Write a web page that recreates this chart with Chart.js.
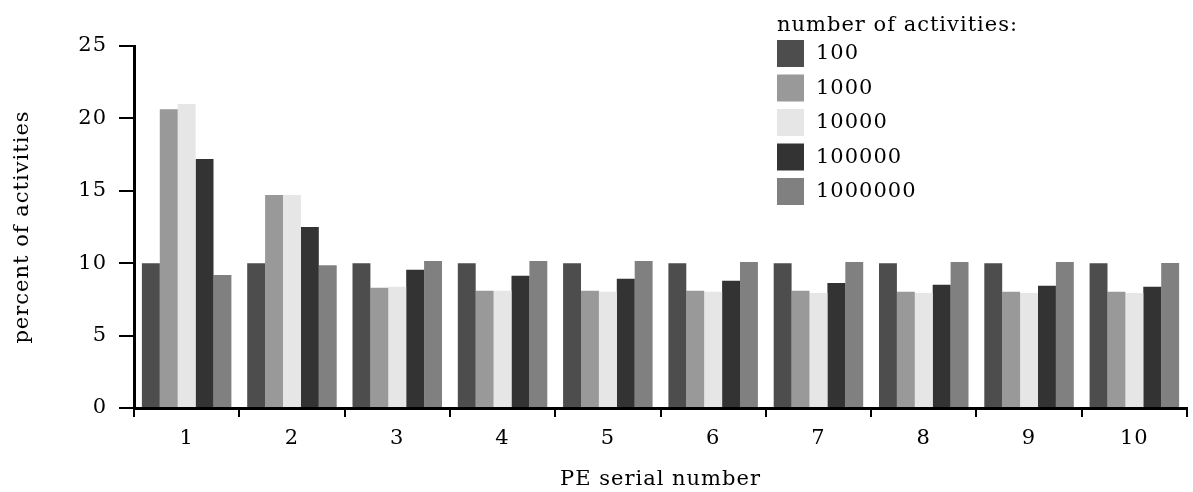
<!DOCTYPE html>
<html>
<head>
<meta charset="utf-8">
<script src="https://cdn.jsdelivr.net/npm/chart.js@4/dist/chart.umd.min.js"></script>
<style>
  html, body { margin: 0; padding: 0; background: #fff; }
  #wrap { width: 1193px; height: 492px; }
</style>
</head>
<body>
<div id="wrap"><canvas id="peChart" width="1193" height="492"></canvas></div>
<script>
// PE serial numbers on the x axis
var peNumbers = ['1', '2', '3', '4', '5', '6', '7', '8', '9', '10'];

// share of activities per PE (percent), one list per run size
var run100     = [10.0, 10.0, 10.0, 10.0, 10.0, 10.0, 10.0, 10.0, 10.0, 10.0];
var run1000    = [20.64, 14.71, 8.30, 8.09, 8.09, 8.09, 8.09, 8.02, 8.02, 8.02];
var run10000   = [20.99, 14.71, 8.37, 8.09, 8.02, 8.02, 7.95, 7.95, 7.95, 7.95];
var run100000  = [17.19, 12.50, 9.54, 9.13, 8.92, 8.78, 8.64, 8.51, 8.44, 8.37];
var run1000000 = [9.19, 9.86, 10.16, 10.16, 10.16, 10.09, 10.09, 10.09, 10.09, 10.02];

var runLabels = ['100', '1000', '10000', '100000', '1000000'];
var runColors = ['#4d4d4d', '#999999', '#e6e6e6', '#333333', '#808080'];
var yTicks = [0, 5, 10, 15, 20, 25];

var serif = "'DejaVu Serif', 'Liberation Serif', serif";
var fontSize = 21;

// slightly looser text, applied before measuring and before drawing
var spacing = {
    id: 'spacing',
    beforeUpdate: function(chart) { chart.ctx.letterSpacing = '1px'; },
    beforeDraw: function(chart) { chart.ctx.letterSpacing = '1px'; }
};

// legend drawn inside the plot, top right
var boxLegend = {
    id: 'boxLegend',
    afterDraw: function(chart) {
        var ctx = chart.ctx;
        var x = 777, y = 26;
        ctx.save();
        ctx.fillStyle = '#000';
        ctx.font = fontSize + 'px ' + serif;
        ctx.textBaseline = 'middle';
        ctx.textAlign = 'left';
        ctx.fillText('number of activities:', x, y);
        chart.data.datasets.forEach(function(ds, i) {
            var cy = 53 + i * 34.5;
            ctx.fillStyle = ds.backgroundColor;
            ctx.fillRect(x, cy - 13, 27, 27);
            ctx.fillStyle = '#000';
            ctx.fillText(ds.label, x + 39, cy + 1);
        });
        ctx.restore();
    }
};

var datasets = [run100, run1000, run10000, run100000, run1000000].map(function(vals, i) {
    return {
        label: runLabels[i],
        data: vals,
        backgroundColor: runColors[i],
        borderWidth: 0,
        categoryPercentage: 0.85,
        barPercentage: 1.0
    };
});

var ctx = document.getElementById('peChart').getContext('2d');
var peChart = new Chart(ctx, {
    type: 'bar',
    data: { labels: peNumbers, datasets: datasets },
    plugins: [spacing, boxLegend],
    options: {
        responsive: false,
        animation: false,
        layout: { padding: { top: 46, right: 6, left: 0, bottom: 0 } },
        plugins: {
            legend: { display: false },
            tooltip: { enabled: false }
        },
        scales: {
            x: {
                grid: {
                    offset: true,
                    drawOnChartArea: false,
                    tickLength: 9,
                    lineWidth: 2,
                    color: '#000'
                },
                border: { display: true, color: '#000', width: 3 },
                ticks: {
                    color: '#000',
                    font: { family: serif, size: fontSize },
                    padding: 9
                },
                title: {
                    display: true,
                    text: 'PE serial number',
                    color: '#000',
                    font: { family: serif, size: fontSize },
                    padding: { top: 8, bottom: 0 }
                },
                afterFit: function(scale) { scale.height = 84; }
            },
            y: {
                min: 0,
                max: 25,
                afterBuildTicks: function(scale) {
                    scale.ticks = yTicks.map(function(v) { return { value: v }; });
                },
                grid: {
                    drawOnChartArea: false,
                    tickLength: 15,
                    lineWidth: 2,
                    color: '#000'
                },
                border: { display: true, color: '#000', width: 3 },
                ticks: {
                    color: '#000',
                    font: { family: serif, size: fontSize },
                    padding: 12
                },
                title: {
                    display: true,
                    text: 'percent of activities',
                    color: '#000',
                    font: { family: serif, size: fontSize },
                    padding: { top: 10, bottom: 4 }
                },
                afterFit: function(scale) { scale.width = 134; }
            }
        }
    }
});
</script>
</body>
</html>
